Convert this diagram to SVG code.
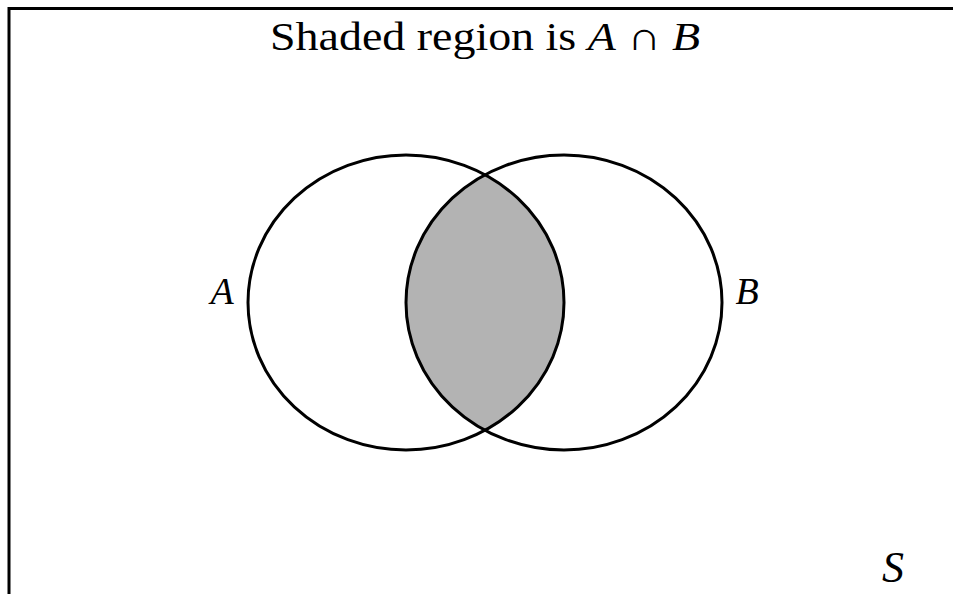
<svg xmlns="http://www.w3.org/2000/svg" width="953" height="594" viewBox="0 0 953 594">
<style>
.ln{fill:none;stroke:#000;stroke-width:3}
.t{font-family:"Liberation Serif","DejaVu Serif",serif;fill:#000}
.i{font-style:italic}
</style>
<rect width="953" height="594" fill="#fff"/>
<g id="frame">
<path class="ln" d="M9,594 V8.5 H953"/>
</g>
<g id="shade">
<path d="M485,174.8 A158,147.5 0 0 0 485,430.2 A158,147.5 0 0 0 485,174.8 Z" fill="#b3b3b3"/>
</g>
<g id="setA">
<ellipse class="ln" cx="406" cy="302.5" rx="158" ry="147.5"/>
<text class="t i" x="222" y="304" font-size="38" text-anchor="middle">A</text>
</g>
<g id="setB">
<ellipse class="ln" cx="564" cy="302.5" rx="158" ry="147.5"/>
<text class="t i" x="747" y="304" font-size="38" text-anchor="middle">B</text>
</g>
<g id="title">
<text class="t" x="270" y="50" font-size="40" textLength="430" lengthAdjust="spacingAndGlyphs">Shaded region is <tspan class="i">A</tspan> ∩ <tspan class="i">B</tspan></text>
</g>
<g id="universe">
<text class="t i" x="893" y="582" font-size="44" text-anchor="middle">S</text>
</g>
</svg>
